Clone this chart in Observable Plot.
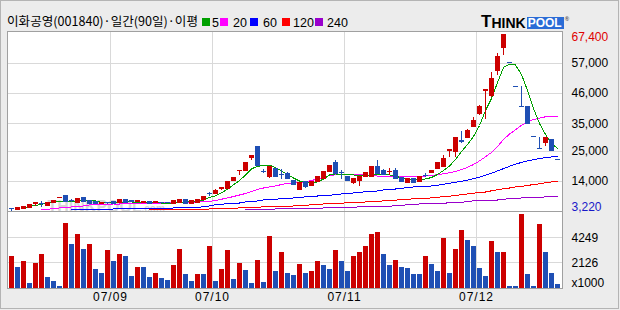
<!DOCTYPE html>
<html><head><meta charset="utf-8">
<script src="https://cdn.jsdelivr.net/npm/d3@7"></script>
<script src="https://cdn.jsdelivr.net/npm/@observablehq/plot@0.6"></script>
<style>
html,body{margin:0;padding:0;background:#ececec;}
#wrap{position:relative;width:620px;height:310px;background:#ececec;overflow:hidden;font-family:"Liberation Sans",Arial,sans-serif;}
#outer{position:absolute;left:0;top:0;width:619px;height:309px;box-sizing:border-box;border:1px solid #b4b4b4;}
#box{position:absolute;left:7px;top:31px;width:556px;height:258px;box-sizing:border-box;background:#fff;}
#boxline{position:absolute;left:7px;top:31px;width:556px;height:258px;box-sizing:border-box;border:1px solid #a0a0a0;pointer-events:none;}
#sep{position:absolute;left:7px;top:211px;width:556px;height:1px;background:#a0a0a0;}
#price{position:absolute;left:0;top:31px;}
#vol{position:absolute;left:0;top:212px;}
#header{position:absolute;left:0;top:0;width:470px;height:31px;}
#header svg{display:block;}
#logo{position:absolute;left:481px;top:12px;height:17px;display:flex;align-items:flex-end;font-family:"Liberation Sans";font-weight:bold;color:#000;}
#logo .t1{font-size:17px;line-height:15px;}
#logo .t2{font-size:14px;line-height:12px;}
#logo .pool{font-size:12px;line-height:12px;background:#2b6cd6;color:#fff;padding:0 2px 0 1px;margin-left:1px;}
#logo .r{font-size:6px;line-height:14px;align-self:flex-start;margin-left:1px;color:#555;}
svg text{font-family:"Liberation Sans",Arial,sans-serif;}
</style>
</head><body>
<div id="wrap">
  <div id="outer"></div>
  <div id="box"></div>
  <div id="price"></div>
  <div id="vol"></div>
  <div id="boxline"></div>
  <div id="sep"></div>
  <div id="header"></div>
  <div id="logo"><span class="t1">T</span><span class="t2">HINK</span><span class="pool">POOL</span><span class="r">®</span></div>
</div>
<script>
const titleText = "이화공영(001840)·일간(90일)·이평";
const maLabels = ["5", "20", "60", "120", "240"];
const maColors = ["#00a000", "#ff00ff", "#0000ff", "#ff0000", "#9900cc"];
const monthStarts = [17, 34, 56, 78];
const monthLabels = ["07/09", "07/10", "07/11", "07/12"];
const priceTicks = [57000, 46000, 35000, 25000, 14000];
const volTicks = [4249, 2126];

const opens = [4000,3610,3970,4480,5930,6000,5200,6100,8100,8900,7000,6400,7960,7000,6510,5800,6100,6500,6150,7380,
6800,6750,6400,6660,6350,6250,6200,5790,6300,7240,6040,6300,7380,9560,9560,11370,11120,14130,17650,17760,
22470,26460,17440,15830,18480,16250,16810,14130,10760,14020,12320,13770,15000,17390,20660,17100,15580,13400,14380,15830,
15830,19210,17760,17300,18010,15360,13400,14750,13660,16100,17030,18630,19210,25010,24650,28890,29870,33720,38570,46770,
45000,54030,62370,57000,48450,41200,41100,30000,25700,28060,29250,21700];
const highs = [4300,4400,4800,5400,6150,6870,6400,7100,8100,9050,7400,7800,8100,7100,6600,6300,6400,6600,7500,7450,
7100,7000,6700,6700,6600,6500,6400,6800,7500,7300,6800,7550,8600,10140,11000,11650,13700,15600,18010,20700,
23450,26830,18260,19300,18600,18260,17400,14200,13800,14100,14100,16000,17500,20000,21700,18010,15700,15100,15600,17100,
19500,21500,18500,18630,18600,15500,14800,14900,15900,17030,18100,20700,23450,25600,29900,32260,33000,37130,41500,47400,
53700,60340,67400,57000,48450,48450,41100,30000,30000,29800,29300,21700];
const lows = [3220,3550,3950,4400,4950,4480,5100,6000,8100,6450,6500,6300,6400,5900,5800,5700,5800,5900,6100,6100,
6500,6500,6200,6000,6300,6000,5950,5750,6250,6000,6000,6250,7300,8580,9500,10760,11000,14000,16200,17700,
21750,19800,16810,15220,15700,14640,14800,12800,10700,11360,12200,13700,14900,17300,16700,14640,14100,12820,12070,15700,
15700,16700,16100,16200,14900,13600,13300,13500,13600,15360,17000,18500,19100,22830,22830,27700,29700,33600,38000,36400,
44500,52470,59720,57000,48450,41200,35020,30000,25700,26720,25010,21700];
const closes = [3950,4340,4700,5320,6150,5950,6300,7050,8100,6600,6900,7600,6510,6000,5930,6100,6050,5950,7380,6150,
6750,6800,6450,6040,6450,6200,6150,6770,7240,6040,6770,7490,8580,9400,10500,11650,13660,15470,18010,20660,
23450,19820,17300,19210,15830,16200,14860,12820,13400,11950,14020,15830,17400,19820,16810,17000,14130,15000,15580,17030,
19460,16810,16200,17400,15000,13660,14750,13550,15830,16000,18010,20660,22250,25520,29720,28170,32520,35890,41220,47280,
51200,59100,67000,57000,48450,41200,35020,30000,25700,29730,25010,21700];
const volumes = [2660,1726,2236,368,2066,2830,877,538,113,5462,3707,4556,3255,3707,1557,1217,3170,2236,2830,2660,
962,1726,1700,877,1217,792,623,1896,3255,1132,538,1132,1110,3509,538,1557,3170,708,2066,1472,
368,2321,453,4358,1387,3000,1217,1047,1981,1217,1387,2236,1896,1557,3170,2236,1387,2660,3000,3509,
4528,4698,2830,1896,2321,1726,1641,1132,1120,2660,1981,1387,4188,1217,3255,4868,4019,3509,1641,962,
3934,3000,3020,113,105,6226,1132,113,5377,3000,1217,283];

const ma5 = [null,null,4410,4950,5320,5680,6220,6590,6770,6770,6770,6950,7130,7130,6950,6400,6400,6220,6400,6590,
6590,6400,6400,6400,6400,6220,6220,6220,6400,6590,6590,6770,7310,8220,8800,9900,11200,12800,14400,16300,
18600,19500,19900,20000,19100,17830,16560,15290,14200,13660,13480,13840,14930,16380,16740,16740,16560,16380,16200,16200,
16380,16380,16380,16380,16020,15290,14930,14750,14570,14930,15470,16560,18010,19640,22000,24900,27440,30340,34330,39770,
44130,49930,55370,56640,56280,52830,47030,40500,35060,31070,27800,25990];
const ma20 = [null,null,null,null,null,3870,3870,4230,4410,4410,4770,4950,5140,5500,5500,5500,5680,5860,5860,5930,
6040,6040,6040,6150,6220,6220,6300,6400,6400,6400,6480,6590,6770,6770,7130,7600,8040,8580,9120,9670,
10390,11120,11660,12030,12390,12930,13300,13480,13550,13950,14380,14930,15470,16200,16450,16450,16450,16450,16450,16380,
16100,16000,15950,15900,15800,15700,15700,15750,15850,16000,16260,16450,16810,17210,17680,18370,19160,20190,21490,22980,
24580,26720,29250,31210,32770,34400,35600,36500,37000,37500,37700,37700];
const ma60 = [null,null,null,null,null,null,null,null,null,null,3760,3760,3760,3760,3760,3760,3760,4050,4120,4120,
4160,4190,4230,4260,4300,4340,4370,4410,4450,4480,4550,4660,4840,5140,5570,5680,6040,6150,6220,6590,
6770,6950,7310,7380,7490,7860,7960,8040,8220,8470,8580,8760,8940,9050,9200,9490,9740,9850,10030,10320,
10390,10580,10940,11120,11300,11590,11770,12030,12140,12210,12390,12680,13010,13370,13730,14090,14490,15040,15620,16270,
17030,17870,18700,19530,20300,20950,21490,21960,22360,22690,22910,23090];
const ma120 = [null,null,null,null,null,null,null,null,null,null,null,null,null,null,null,null,null,null,null,null,
null,null,null,3760,3760,3760,3790,3830,3870,3870,3940,3970,4010,4050,4120,4160,4230,4300,4450,4520,
4590,4660,4840,4920,4950,4990,5060,5140,5240,5390,5570,5680,5860,5930,6040,6150,6330,6400,6480,6590,
6690,6770,7020,7130,7270,7420,7560,7750,7860,7960,8070,8330,8510,8690,9020,9200,9490,9780,10030,10210,
10650,11010,11370,11660,12030,12280,12570,12930,13190,13550,13840,13950];
const ma240 = [null,null,null,null,null,null,null,null,null,null,null,null,null,null,null,null,null,null,null,null,
null,null,null,null,null,null,null,null,null,null,null,null,null,null,null,null,null,null,null,3760,
3760,3760,3790,3870,4050,4080,4120,4120,4160,4190,4230,4300,4410,4480,4520,4550,4590,4660,4840,4920,
4950,4990,5030,5100,5170,5390,5570,5680,5860,5900,5930,5970,6040,6400,6480,6550,6620,7020,7090,7130,
7200,7310,7640,7710,7780,8040,8070,8110,8220,8470,8540,8580];
const maSeries = [ma5, ma20, ma60, ma120, ma240];

// header: title stretched to the reference width, then the legend
const legendSquareX = [202, 220, 250, 282, 315];
const legendLabelX = [212, 233, 263, 293, 327];
const hsvg = d3.select("#header").append("svg").attr("width", 470).attr("height", 31);
hsvg.append("text")
  .attr("x", 7).attr("y", 26)
  .attr("textLength", 191).attr("lengthAdjust", "spacingAndGlyphs")
  .style("font-family", '"Noto Sans CJK KR","Noto Sans CJK SC",sans-serif')
  .style("font-size", "12.5px").attr("fill", "#000")
  .text(titleText);
maLabels.forEach((lab, k) => {
  hsvg.append("rect").attr("x", legendSquareX[k]).attr("y", 18).attr("width", 8).attr("height", 8)
    .attr("fill", maColors[k]).attr("shape-rendering", "crispEdges");
  hsvg.append("text").attr("x", legendLabelX[k]).attr("y", 26.5)
    .style("font-family", '"Liberation Sans",Arial,sans-serif').style("font-size", "12.5px")
    .attr("fill", "#000").text(lab);
});

const N = closes.length;
const idx = d3.range(N);
const RED = "#cc0000", BLUE = "#1f4fb4";
const candles = idx.map(i => ({
  i, o: opens[i], h: highs[i], l: lows[i], c: closes[i],
  col: (closes[i] > opens[i] || (closes[i] === opens[i] && (i === 0 || closes[i] >= closes[i - 1]))) ? RED : BLUE
}));
const vols = idx.map(i => ({i, v: volumes[i], col: (i === 0 || volumes[i] > volumes[i - 1]) ? RED : BLUE}));
const maxHigh = d3.max(highs), minLow = d3.min(lows);
const fmt = d3.format(",");
const GRID = "#d9d9d9";
const xScale = {domain: [-0.5, N - 0.5], range: [8, 560], axis: null};
const baseStyle = {background: "transparent", overflow: "visible", fontFamily: "Liberation Sans", fontSize: "12px"};

const priceChart = Plot.plot({
  width: 620, height: 181,
  marginLeft: 7, marginRight: 58, marginTop: 0, marginBottom: 0,
  x: xScale,
  y: {domain: [2777, 68430], range: [181, 0], axis: null},
  color: {type: "identity"},
  style: baseStyle,
  marks: [
    Plot.ruleY(priceTicks, {stroke: GRID, shapeRendering: "crispEdges"}),
    Plot.ruleX(monthStarts, {x: d => d - 0.5, stroke: GRID, shapeRendering: "crispEdges"}),
    Plot.text(["THINKPOOL"], {frameAnchor: "bottom-left", dx: 40, dy: -1, textAnchor: "start", lineAnchor: "bottom", fontSize: 16, fontWeight: "bold", fill: "#d6d6d6"}),
    Plot.text([".com"], {frameAnchor: "bottom-left", dx: 134, dy: -1, textAnchor: "start", lineAnchor: "bottom", fontSize: 10, fontWeight: "bold", fill: "#d6d6d6"}),
    ...maSeries.slice().reverse().map((s, k) => Plot.lineY(s, {stroke: maColors[maSeries.length - 1 - k], strokeWidth: 1, shapeRendering: "crispEdges"})),
    Plot.ruleX(candles, {x: "i", y1: "l", y2: "h", stroke: "col", shapeRendering: "crispEdges"}),
    Plot.rect(candles, {x1: d => d.i - 0.5, x2: d => d.i + 0.5, y1: "o", y2: "c", insetLeft: 0.5, insetRight: 0.5, insetTop: -0.5, insetBottom: -0.5, fill: "col", shapeRendering: "crispEdges"}),
    Plot.text(priceTicks, {y: d => d, text: d => fmt(d), frameAnchor: "right", dx: 9, textAnchor: "start", fill: "#000", fontSize: 12}),
    Plot.text([maxHigh], {y: d => d, text: d => fmt(d), frameAnchor: "right", dx: 9, dy: 3, textAnchor: "start", fill: "#e00000", fontSize: 12}),
    Plot.text([minLow], {y: d => d, text: d => fmt(d), frameAnchor: "right", dx: 9, dy: -4.5, textAnchor: "start", fill: "#1818c8", fontSize: 12})
  ]
});
document.getElementById("price").appendChild(priceChart);

const volTop = 6374;
const volChart = Plot.plot({
  width: 620, height: 98,
  marginLeft: 7, marginRight: 58, marginTop: 0, marginBottom: 22,
  x: xScale,
  y: {domain: [0, volTop], range: [75.5, 0], axis: null},
  color: {type: "identity"},
  style: baseStyle,
  marks: [
    Plot.ruleY(volTicks, {stroke: GRID, shapeRendering: "crispEdges"}),
    Plot.ruleX(monthStarts, {x: d => d - 0.5, stroke: GRID, shapeRendering: "crispEdges"}),
    Plot.rect(vols, {x1: d => d.i - 0.5, x2: d => d.i + 0.5, y1: 0, y2: "v", insetLeft: 0.5, insetRight: 0.5, fill: "col", shapeRendering: "crispEdges"}),
    Plot.text(volTicks, {y: d => d, text: d => String(d), frameAnchor: "right", dx: 9, textAnchor: "start", fill: "#000", fontSize: 12}),
    Plot.text(["x1000"], {frameAnchor: "bottom-right", dx: 9, dy: -2, textAnchor: "start", fill: "#000", fontSize: 12}),
    Plot.text(monthStarts, {x: d => d - 0.5, text: (d, i) => monthLabels[i], frameAnchor: "bottom", dy: 12, fill: "#000", fontSize: 12})
  ]
});
document.getElementById("vol").appendChild(volChart);
d3.select(volChart).selectAll("text").filter(function() { return monthLabels.includes(this.textContent); }).attr("letter-spacing", "1px");
</script>
</body></html>
